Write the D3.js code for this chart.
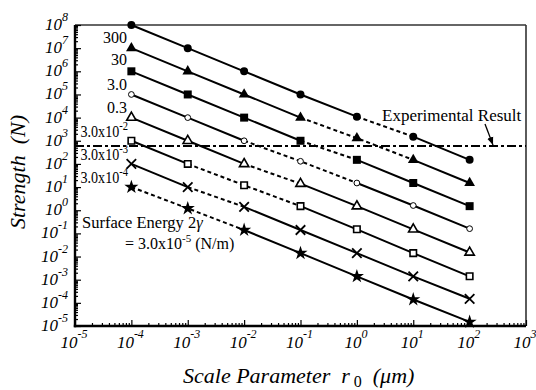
<!DOCTYPE html>
<html>
<head>
<meta charset="utf-8">
<script src="https://cdn.jsdelivr.net/npm/d3@7"></script>
<style>
  body { margin: 0; background: #fff; }
  svg text { font-family: "Liberation Serif", "Times New Roman", serif; fill: #000; }
</style>
</head>
<body>
<svg id="chart" width="536" height="390"></svg>
<script>
// scale parameter r0 (um) at which strength was computed
const radii = [1e-4, 1e-3, 1e-2, 1e-1, 1, 10, 100];

// surface energy labels (N/m), mantissa / exponent
const energyText = ["300", "30", "3.0", "0.3", "3.0x10", "3.0x10", "3.0x10"];
const energyExp = ["", "", "", "", "-2", "-3", "-4"];

// strength (N) for each surface energy
const strength300 = [1e8, 1e7, 1e6, 1e5, 1.1e4, 1.5e3, 1.5e2];
const strength30 = [1e7, 1e6, 1e5, 1e4, 1.3e3, 1.5e2, 1.5e1];
const strength3 = [1e6, 1e5, 1e4, 1e3, 1.5e2, 1.5e1, 1.5];
const strength03 = [1e5, 1e4, 1e3, 1.3e2, 1.5e1, 1.6, 0.16];
const strength3e2 = [1e4, 1e3, 1e2, 1.4e1, 1.5, 0.15, 0.015];
const strength3e3 = [1e3, 1e2, 1.2e1, 1.5, 0.15, 0.014, 0.0014];
const strength3e4 = [1e2, 1e1, 1.4, 0.14, 0.014, 0.0014, 1.5e-4];
const strength3e5 = [1e1, 1.2, 0.14, 0.014, 0.0014, 1.4e-4, 1.5e-5];

const allSeries = [strength300, strength30, strength3, strength03,
                   strength3e2, strength3e3, strength3e4, strength3e5];

// index range of points joined by a dashed line (transition region)
const dashedSpans = [[4, 5], [3, 5], [3, 4], [2, 4], [2, 3], [1, 3], [1, 2], [0, 2]];

const experimentalStrength = 600;

const xDecades = d3.range(-5, 4);
const yDecades = d3.range(-5, 9);

const width = 536, height = 390;
const margin = { top: 25, right: 10, bottom: 64, left: 75 };

const svg = d3.select('#chart');

const x = d3.scaleLog()
  .domain([1e-5, 1e3])
  .range([margin.left, width - margin.right]);

const y = d3.scaleLog()
  .domain([1e-5, 1e8])
  .range([height - margin.bottom, margin.top]);

// minor / major tick values
const xMinor = [], yMinor = [];
xDecades.slice(0, -1).forEach(d => { for (let k = 2; k < 10; k++) xMinor.push(k * Math.pow(10, d)); });
yDecades.slice(0, -1).forEach(d => { for (let k = 2; k < 10; k++) yMinor.push(k * Math.pow(10, d)); });

// frame (top and right)
svg.append('line')
  .attr('x1', x(1e-5)).attr('x2', x(1e3))
  .attr('y1', y(1e8)).attr('y2', y(1e8))
  .attr('stroke', '#333').attr('stroke-width', 1.6);
svg.append('line')
  .attr('x1', x(1e3)).attr('x2', x(1e3))
  .attr('y1', y(1e8)).attr('y2', y(1e-5))
  .attr('stroke', '#333').attr('stroke-width', 1.6);

// axes, ticks pointing inward
const styleAxis = g => {
  g.selectAll('.domain').remove();
  g.selectAll('.tick line').attr('stroke', '#000').attr('stroke-width', 1.2);
};

svg.append('g')
  .attr('transform', `translate(${margin.left},0)`)
  .call(d3.axisLeft(y).tickValues(yMinor).tickSize(-3).tickFormat(''))
  .call(styleAxis);
svg.append('g')
  .attr('transform', `translate(${margin.left},0)`)
  .call(d3.axisLeft(y).tickValues(yDecades.map(d => Math.pow(10, d))).tickSize(-6).tickFormat(''))
  .call(styleAxis);
svg.append('g')
  .attr('transform', `translate(0,${height - margin.bottom})`)
  .call(d3.axisBottom(x).tickValues(xMinor).tickSize(-3).tickFormat(''))
  .call(styleAxis);
svg.append('g')
  .attr('transform', `translate(0,${height - margin.bottom})`)
  .call(d3.axisBottom(x).tickValues(xDecades.map(d => Math.pow(10, d))).tickSize(-6).tickFormat(''))
  .call(styleAxis);

svg.append('line')
  .attr('x1', x(1e-5)).attr('x2', x(1e-5))
  .attr('y1', y(1e8)).attr('y2', y(1e-5) + 1.2)
  .attr('stroke', '#000').attr('stroke-width', 2.4);
svg.append('line')
  .attr('x1', x(1e-5) - 1.2).attr('x2', x(1e3))
  .attr('y1', y(1e-5)).attr('y2', y(1e-5))
  .attr('stroke', '#000').attr('stroke-width', 2.4);

// tick labels 10^n
yDecades.forEach(d => {
  const t = svg.append('text')
    .attr('x', 68)
    .attr('y', y(Math.pow(10, d)) + 5)
    .attr('text-anchor', 'end')
    .style('font-style', 'italic')
    .style('font-size', '17px');
  t.append('tspan').text('10');
  t.append('tspan').attr('dy', -9).style('font-size', '12px').text(d);
});

xDecades.forEach(d => {
  const t = svg.append('text')
    .attr('x', x(Math.pow(10, d)) - 1)
    .attr('y', height - margin.bottom + 22)
    .attr('text-anchor', 'middle')
    .style('font-style', 'italic')
    .style('font-size', '17px');
  t.append('tspan').text('10');
  t.append('tspan').attr('dy', -10).style('font-size', '12px').text(d);
});

// axis titles
svg.append('text')
  .attr('transform', `translate(25,${172}) rotate(-90)`)
  .attr('text-anchor', 'middle')
  .style('font-style', 'italic')
  .style('font-size', '22px')
  .text('Strength\u00a0\u00a0(N)');

const xt = svg.append('text')
  .attr('x', 183)
  .attr('y', 383)
  .style('font-style', 'italic')
  .style('font-size', '22px');
xt.append('tspan').text('Scale Parameter\u00a0\u00a0r');
xt.append('tspan').attr('dy', 4).style('font-style', 'normal').style('font-size', '16px').text('\u00a00');
xt.append('tspan').attr('dy', -4).text('\u00a0\u00a0(\u03bcm)');

// experimental result
svg.append('line')
  .attr('x1', x(1e-5)).attr('x2', x(1e3))
  .attr('y1', y(experimentalStrength)).attr('y2', y(experimentalStrength))
  .attr('stroke', '#000').attr('stroke-width', 2)
  .attr('stroke-dasharray', '9,3,3,3');

svg.append('text')
  .attr('x', 382).attr('y', 121)
  .style('font-size', '17px')
  .text('Experimental Result');

svg.append('defs').append('marker')
  .attr('id', 'arrow')
  .attr('viewBox', '0 0 10 10')
  .attr('refX', 10).attr('refY', 5)
  .attr('markerWidth', 6).attr('markerHeight', 6)
  .attr('orient', 'auto-start-reverse')
  .append('path')
  .attr('d', 'M0,1L10,5L0,9Z')
  .attr('fill', '#000');

svg.append('line')
  .attr('x1', 485).attr('y1', 124)
  .attr('x2', 493).attr('y2', y(experimentalStrength) - 1)
  .attr('stroke', '#000').attr('stroke-width', 1.3)
  .attr('marker-end', 'url(#arrow)');

// series lines
const line = d3.line()
  .x(d => x(d[0]))
  .y(d => y(d[1]));

allSeries.forEach((vals, si) => {
  const pts = vals.map((v, i) => [radii[i], v]);
  const [a, b] = dashedSpans[si];
  const parts = [
    { p: pts.slice(0, a + 1), dash: null },
    { p: pts.slice(a, b + 1), dash: '4,3' },
    { p: pts.slice(b), dash: null }
  ];
  parts.forEach(part => {
    if (part.p.length < 2) return;
    svg.append('path')
      .datum(part.p)
      .attr('fill', 'none')
      .attr('stroke', '#000')
      .attr('stroke-width', 2)
      .attr('stroke-dasharray', part.dash)
      .attr('d', line);
  });
});

// markers
const symbolCross = {
  draw(ctx, size) {
    const r = Math.sqrt(size) / 2;
    ctx.moveTo(-r, -r); ctx.lineTo(r, r);
    ctx.moveTo(r, -r); ctx.lineTo(-r, r);
  }
};

const markerStyles = [
  { type: d3.symbolCircle, size: 50, fill: '#000', sw: 0 },
  { type: d3.symbolTriangle, size: 50, fill: '#000', sw: 0 },
  { type: d3.symbolSquare, size: 64, fill: '#000', sw: 0 },
  { type: d3.symbolCircle, size: 26, fill: '#fff', sw: 1 },
  { type: d3.symbolTriangle, size: 38, fill: '#fff', sw: 1.6 },
  { type: d3.symbolSquare, size: 42, fill: '#fff', sw: 1.6 },
  { type: symbolCross, size: 90, fill: 'none', sw: 1.8 },
  { type: d3.symbolStar, size: 62, fill: '#000', sw: 0 }
];

allSeries.forEach((vals, si) => {
  const st = markerStyles[si];
  svg.append('g')
    .selectAll('path')
    .data(vals)
    .join('path')
    .attr('transform', (d, i) => `translate(${x(radii[i])},${y(d)})`)
    .attr('d', d3.symbol().type(st.type).size(st.size))
    .attr('fill', st.fill)
    .attr('stroke', '#000')
    .attr('stroke-width', st.sw);
});

// surface energy labels
const labelBase = [43, 65, 90, 113, 137, 160, 183];
energyText.forEach((t, i) => {
  const txt = svg.append('text')
    .attr('text-anchor', 'end')
    .style('font-size', '16px');
  if (energyExp[i]) {
    txt.attr('transform', `translate(128,${labelBase[i]}) scale(0.88,1)`);
    txt.append('tspan').text(t);
    txt.append('tspan').attr('dy', -7).style('font-size', '12px').text(energyExp[i]);
  } else {
    txt.attr('transform', `translate(127,${labelBase[i]})`);
    txt.append('tspan').text(t);
  }
});

const se = svg.append('text')
  .attr('x', 82).attr('y', 228)
  .style('font-size', '16.5px');
se.append('tspan').text('Surface Energy 2');
se.append('tspan').style('font-style', 'italic').text('\u03b3');

const se2 = svg.append('text')
  .attr('x', 125).attr('y', 249)
  .style('font-size', '16px');
se2.append('tspan').text('= 3.0x10');
se2.append('tspan').attr('dy', -7).style('font-size', '11px').text('-5');
se2.append('tspan').attr('dy', 7).text(' (N/m)');
</script>
</body>
</html>
